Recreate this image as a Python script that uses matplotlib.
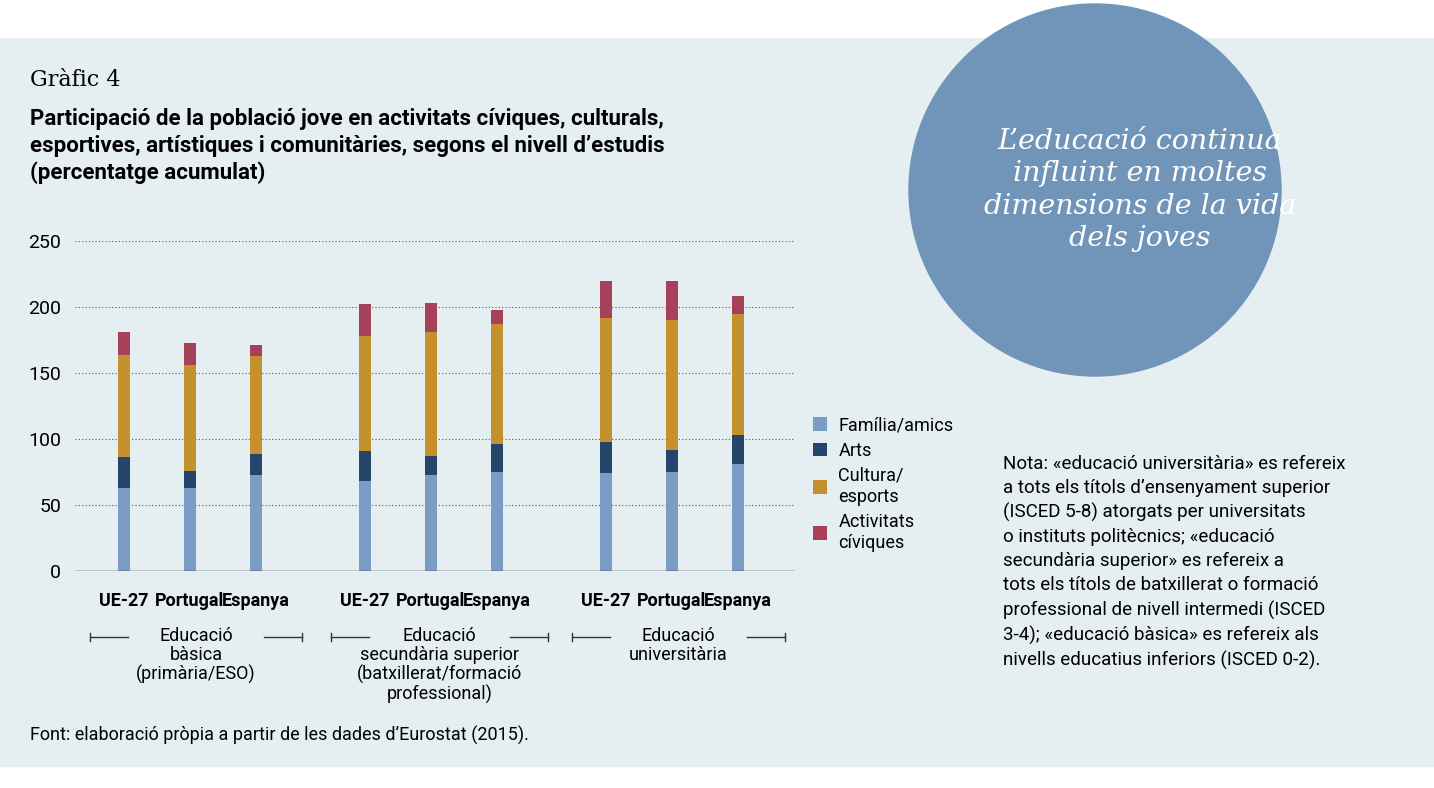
import matplotlib.pyplot as plt
from matplotlib.patches import Circle, Rectangle
import numpy as np

countries = ["UE-27", "Portugal", "Espanya"] * 3
groups = ["Educació\nbàsica\n(primària/ESO)",
          "Educació\nsecundària superior\n(batxillerat/formació\nprofessional)",
          "Educació\nuniversitària"]
series = ["Família/amics", "Arts", "Cultura/\nesports", "Activitats\ncíviques"]
familia = [63, 63, 73, 68, 73, 75, 74, 75, 81]
arts = [23, 13, 16, 23, 14, 21, 24, 17, 22]
cultura = [78, 80, 74, 87, 94, 91, 94, 98, 92]
civiques = [17, 17, 8, 24, 22, 11, 28, 30, 13]
colors = ["#7b9cc4", "#26456d", "#c4912f", "#a64159"]

FONT = "Roboto"
W, H = 1434, 788
fig = plt.figure(figsize=(W / 100, H / 100), dpi=100)
fig.patch.set_facecolor("white")
bg = fig.add_axes([0, 0, 1, 1])
bg.set_xlim(0, W)
bg.set_ylim(H, 0)
bg.axis("off")
bg.add_patch(Rectangle((0, 38), W, 728, color="#e5eef1", zorder=0))
bg.add_patch(Circle((1095, 190), 186, color="#7194b9", zorder=1))

bg.text(1140, 190, "L’educació continua\ninfluint en moltes\ndimensions de la vida\ndels joves",
        color="white", fontsize=20.5, family="DejaVu Serif", style="italic",
        ha="center", va="center", linespacing=1.25, zorder=2)
bg.text(30, 80, "Gràfic 4", fontsize=16, family="DejaVu Serif", va="center")
bg.text(30, 146, "Participació de la població jove en activitats cíviques, culturals,\n"
        "esportives, artístiques i comunitàries, segons el nivell d’estudis\n"
        "(percentatge acumulat)", fontsize=16, fontweight="bold",
        family=FONT, va="center", linespacing=1.3)
bg.text(30, 735, "Font: elaboració pròpia a partir de les dades d’Eurostat (2015).",
        fontsize=13, family=FONT, va="center")
bg.text(1003, 455, "Nota: «educació universitària» es refereix\n"
        "a tots els títols d’ensenyament superior\n"
        "(ISCED 5-8) atorgats per universitats\n"
        "o instituts politècnics; «educació\n"
        "secundària superior» es refereix a\n"
        "tots els títols de batxillerat o formació\n"
        "professional de nivell intermedi (ISCED\n"
        "3-4); «educació bàsica» es refereix als\n"
        "nivells educatius inferiors (ISCED 0-2).",
        fontsize=13.5, family=FONT, va="top", linespacing=1.42)

ax = fig.add_axes([75 / W, 1 - 571 / H, 720 / W, 330 / H])
ax.patch.set_alpha(0)
x = np.array([i + (i // 3) * 0.65 for i in range(9)])
bottom = np.zeros(9)
for vals, c, name in zip([familia, arts, cultura, civiques], colors, series):
    ax.bar(x, vals, 0.18, bottom=bottom, color=c, label=name, zorder=3)
    bottom += np.array(vals)
ax.set_xlim(-0.74, 10.17)
ax.set_ylim(0, 250)
ax.set_yticks([0, 50, 100, 150, 200, 250])
ax.yaxis.grid(True, linestyle=(0, (1, 2)), color="#555555", linewidth=0.8)
ax.axhline(0, color="#333333", linewidth=1, zorder=4)
for s in ax.spines.values():
    s.set_visible(False)
ax.tick_params(axis="y", length=0, pad=10)
ax.set_yticklabels([str(v) for v in ax.get_yticks().astype(int)], family=FONT, fontsize=14)
ax.set_xticks(x)
ax.set_xticklabels(countries, fontweight="bold", fontsize=13, family=FONT)
ax.tick_params(axis="x", length=0, pad=15)
ax.legend(loc="upper left", bbox_to_anchor=(1.015, 0.49), frameon=False,
          handlelength=0.8, handleheight=0.8, labelspacing=0.4,
          prop={"family": FONT, "size": 13}, borderaxespad=0, handletextpad=0.6)

# group labels with brackets
spans = [(90, 302), (331, 548), (572, 785)]
for (a, b), g in zip(spans, groups):
    mid = (a + b) / 2
    bg.text(mid, 627, g, ha="center", va="top", fontsize=13,
            family=FONT, linespacing=1.05)
    bg.plot([a, a + 38], [637, 637], color="#333333", lw=1)
    bg.plot([b - 38, b], [637, 637], color="#333333", lw=1)
    bg.plot([a, a], [633, 641], color="#333333", lw=1)
    bg.plot([b, b], [633, 641], color="#333333", lw=1)

fig.savefig("out.png", dpi=100)
